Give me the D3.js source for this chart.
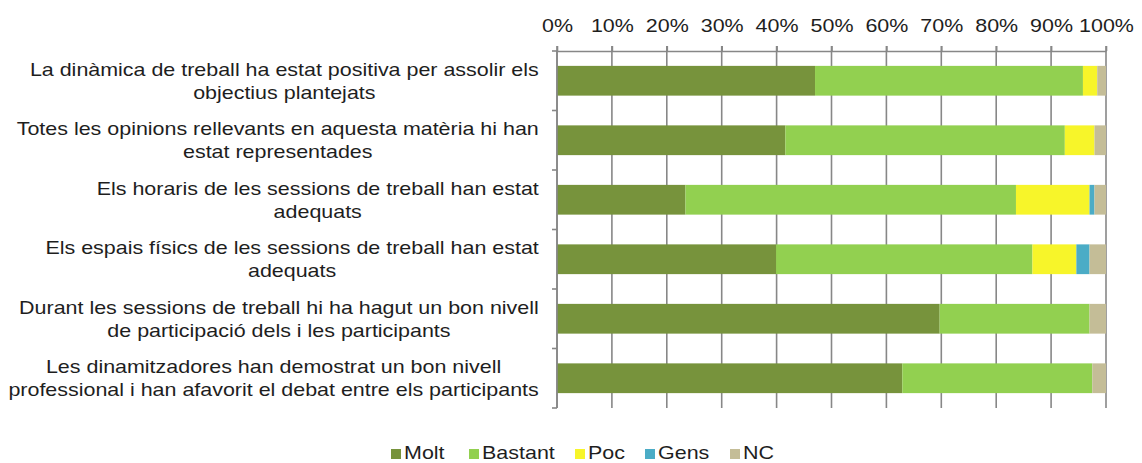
<!DOCTYPE html>
<html>
<head>
<meta charset="utf-8">
<script src="https://cdn.jsdelivr.net/npm/d3@7"></script>
<style>
  body { margin: 0; background: #fff; }
  text { font-family: "Liberation Sans", Arial, sans-serif; fill: #1e1e1e; }
</style>
</head>
<body>
<div id="chart"></div>
<script>
// Data
const categories = [
  ["La dinàmica de treball ha estat positiva per assolir els", "objectius plantejats"],
  ["Totes les opinions rellevants en aquesta matèria hi han", "estat representades"],
  ["Els horaris de les sessions de treball han estat", "adequats"],
  ["Els espais físics de les sessions de treball han estat", "adequats"],
  ["Durant les sessions de treball hi ha hagut un bon nivell", "de participació dels i les participants"],
  ["Les dinamitzadores han demostrat un bon nivell", "professional i han afavorit el debat entre els participants"]
];
const seriesNames = ["Molt", "Bastant", "Poc", "Gens", "NC"];
const molt    = [47.0, 41.6, 23.4, 39.9, 69.7, 62.9];
const bastant = [48.8, 50.9, 60.2, 46.7, 27.3, 34.6];
const poc     = [2.6, 5.4, 13.4, 8.0, 0, 0];
const gens    = [0, 0, 0.9, 2.4, 0, 0];
const nc      = [1.6, 2.1, 2.1, 3.0, 3.0, 2.5];
const tickValues = [0, 10, 20, 30, 40, 50, 60, 70, 80, 90, 100];
const colors = ["#77933c", "#92d050", "#f7f52a", "#4bacc6", "#c4bd97"];

const rows = categories.map((c, i) => ({
  key: i, Molt: molt[i], Bastant: bastant[i], Poc: poc[i], Gens: gens[i], NC: nc[i]
}));

const svg = d3.select("#chart").append("svg")
  .attr("width", 1142)
  .attr("height", 463);

const margin = { top: 51, left: 557, bottom: 408 };
const sx = 1.13;      // the source font runs a bit wide
const sxLabel = 1.16;
const gridColor = "#878787";

const x = d3.scaleLinear().domain([0, 100]).range([margin.left, margin.left + 549]);
const band = d3.scaleBand().domain(d3.range(categories.length)).range([margin.top, margin.bottom]);
const y = d3.scaleBand().domain(d3.range(categories.length))
  .range([margin.top, margin.bottom]).paddingInner(0.5).paddingOuter(0.25);

// gridlines
svg.append("g")
  .selectAll("line")
  .data(tickValues)
  .join("line")
  .attr("x1", d => x(d)).attr("x2", d => x(d))
  .attr("y1", margin.top - 5).attr("y2", margin.bottom)
  .attr("stroke", gridColor)
  .attr("stroke-width", 1.6);

// bars
const stack = d3.stack().keys(seriesNames)(rows);
svg.append("g")
  .selectAll("g")
  .data(stack)
  .join("g")
  .attr("fill", (d, i) => colors[i])
  .selectAll("rect")
  .data(d => d)
  .join("rect")
  .attr("x", d => x(d[0]))
  .attr("width", d => x(d[1]) - x(d[0]))
  .attr("y", (d, i) => y(i))
  .attr("height", y.bandwidth());

// top axis
const xAxis = svg.append("g")
  .attr("transform", `translate(0,${margin.top})`)
  .call(d3.axisTop(x).tickValues(tickValues).tickFormat(d => d + "%").tickSize(5).tickSizeOuter(0));
xAxis.select(".domain").attr("stroke", gridColor).attr("stroke-width", 1.6);
xAxis.selectAll(".tick line").attr("stroke", gridColor).attr("stroke-width", 1.6);
xAxis.selectAll(".tick text")
  .attr("y", -19)
  .attr("dy", null)
  .attr("transform", `scale(${sx},1)`)
  .attr("font-size", 19)
  .attr("fill", "#1e1e1e")
  .attr("font-family", "Liberation Sans, Arial, sans-serif");

// left axis
const yAxisG = svg.append("g");
yAxisG.append("line")
  .attr("x1", margin.left).attr("x2", margin.left)
  .attr("y1", margin.top).attr("y2", margin.bottom)
  .attr("stroke", gridColor).attr("stroke-width", 1.6);
yAxisG.selectAll("line.tk")
  .data(d3.range(categories.length + 1))
  .join("line")
  .attr("class", "tk")
  .attr("x1", margin.left - 5).attr("x2", margin.left)
  .attr("y1", d => d < categories.length ? band(d) : margin.bottom)
  .attr("y2", d => d < categories.length ? band(d) : margin.bottom)
  .attr("stroke", gridColor).attr("stroke-width", 1.6);

// category labels: block right aligned, lines centred inside it
const labelRight = 539;
categories.forEach((lines, i) => {
  const cy = band(i) + band.bandwidth() / 2;
  const texts = lines.map((ln, j) => svg.append("text")
    .attr("font-size", 18.5)
    .attr("text-anchor", "middle")
    .text(ln)
    .datum(cy - 5 + j * 23));
  const w = d3.max(texts, t => t.node().getComputedTextLength()) * sxLabel;
  texts.forEach(t => t.attr("transform", d => `translate(${labelRight - w / 2},${d}) scale(${sxLabel},1)`));
});

// legend
const legendX = [391, 469, 575, 645, 730];
const legend = svg.append("g");
seriesNames.forEach((s, i) => {
  legend.append("rect")
    .attr("x", legendX[i]).attr("y", 449)
    .attr("width", 10).attr("height", 10)
    .attr("fill", colors[i]);
  legend.append("text")
    .attr("transform", `translate(${legendX[i] + 13},459) scale(${sx},1)`)
    .attr("font-size", 19)
    .text(s);
});
</script>
</body>
</html>
